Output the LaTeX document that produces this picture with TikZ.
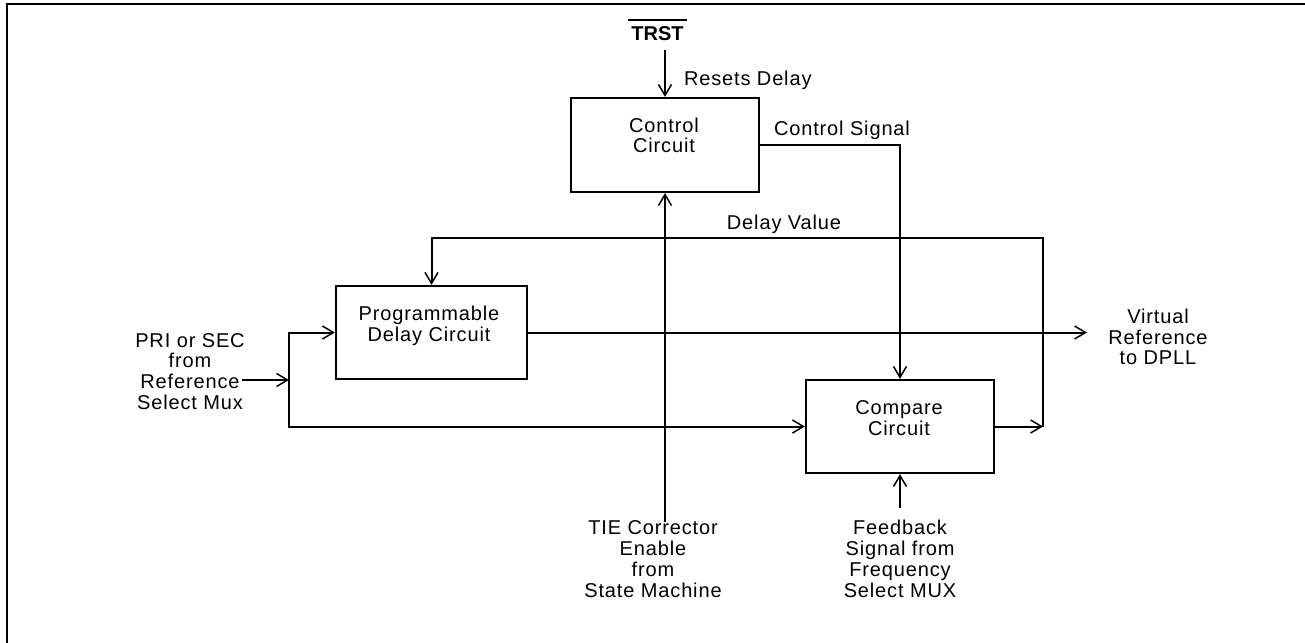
\documentclass[tikz,border=0pt]{standalone}
\usepackage{fontspec}
\setmainfont{Liberation Sans}[LetterSpace=4.3]
\usetikzlibrary{arrows.meta}
\begin{document}
\begin{tikzpicture}[x=1pt,y=-1pt,line width=2pt,
  box/.style={draw,line width=2.2pt,inner sep=0pt},
  lbl/.style={inner sep=0pt,align=center,font=\fontsize{20}{20.8}\selectfont},
  arr/.style={-{Straight Barb[length=11pt,width=13pt,line width=1.5pt]}}]
\useasboundingbox (0,0) rectangle (1305,642);
% frame
\draw[line width=2.3pt] (1320,4.2) -- (6.8,4.2) -- (6.8,660);
% boxes
\node[box,minimum width=188pt,minimum height=94pt] (ctrl) at (665,145) {};
\node[box,minimum width=191pt,minimum height=93pt] (prog) at (431.5,332.5) {};
\node[box,minimum width=188pt,minimum height=93pt] (cmp) at (900,426.5) {};
% texts
\node[lbl] (ctrltxt) at (664,135.4) {Control\\Circuit};
\node[lbl] (progtxt) at (429,326) {Programmable\\Delay Circuit};
\node[lbl] (cmptxt) at (899,418.5) {Compare\\Circuit};
\node[lbl] (vref) at (1158,337) {Virtual\\Reference\\to DPLL};
\node[lbl] (pri) at (190,371.5) {PRI or SEC\\from\\Reference\\Select Mux};
\node[lbl] (tie) at (653,559) {TIE Corrector\\Enable\\from\\State Machine};
\node[lbl] (fb) at (900,559) {Feedback\\Signal from\\Frequency\\Select MUX};
\node[lbl,anchor=base] (dv) at (784,229) {Delay Value};
\node[lbl,anchor=base west] (cs) at (773,135) {Control Signal};
\node[lbl,anchor=base west] (rd) at (683,85) {Resets Delay};
\node[lbl,anchor=base] (trst) at (657.5,40.7) {\vbox{\hrule height 2pt\kern5.5pt\hbox{\kern3pt\bfseries\addfontfeature{LetterSpace=0}TRST\kern3pt}}};
% coordinates
\coordinate (trstout) at (665,50);
\coordinate (tiein) at (665,522);
\coordinate (fbout) at (900,508);
\coordinate (inL) at (242,380);
\coordinate (jin) at (289,380);
\coordinate (jr) at (1043,426.5);
\coordinate (dvr) at (1043,238);
\coordinate (vrin) at (1087,332.5);
% connectors
\draw[arr] (trstout) -- (ctrl.north);
\draw[arr] (ctrl.east) -| (cmp.north);
\draw[arr] (tiein) -- (ctrl.south);
\draw[arr] (fbout) -- (cmp.south);
\draw[arr] (inL) -- (jin);
\draw[arr] (jin) |- (prog.west);
\draw[arr] (jin) |- (cmp.west);
\draw[arr] (cmp.east) -- (jr);
\draw[arr] (jr) -- (dvr) -| (prog.north);
\draw[arr] (prog.east) -- (vrin);
\end{tikzpicture}
\end{document}
